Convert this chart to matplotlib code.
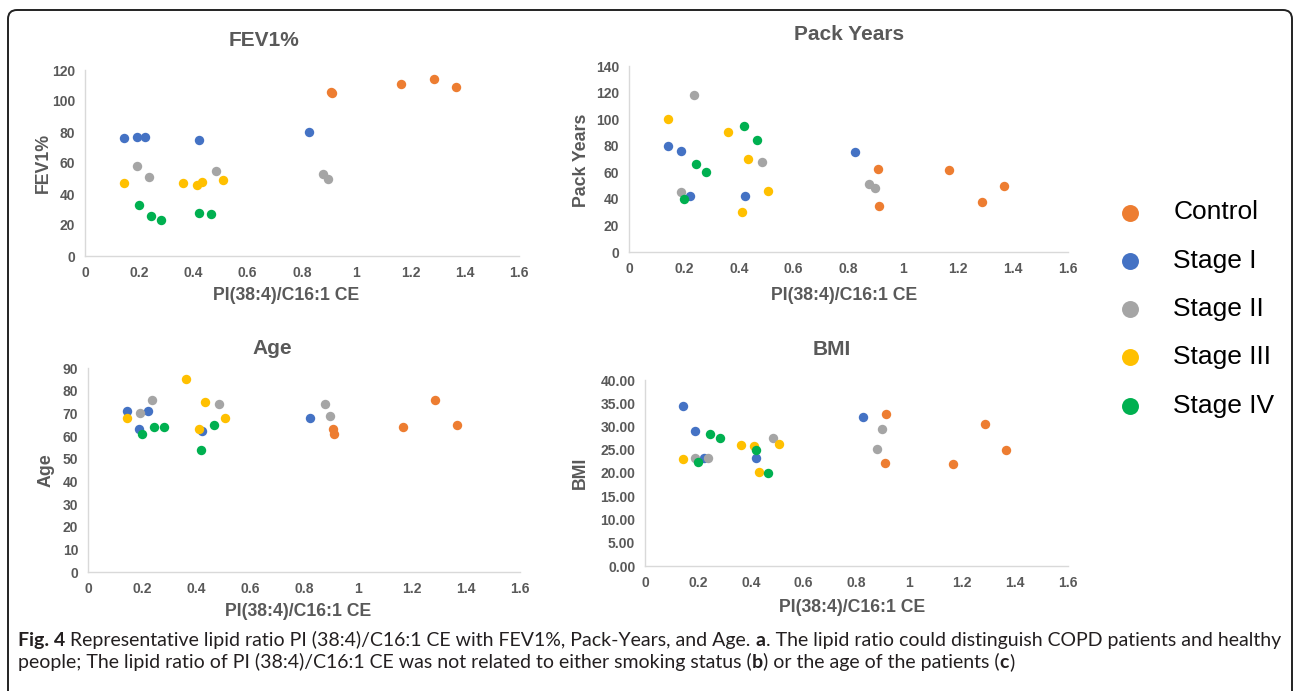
import numpy as np
import matplotlib
matplotlib.use('Agg')
import matplotlib.pyplot as plt
from matplotlib.patches import FancyBboxPatch
from matplotlib.font_manager import FontProperties

W, H = 1295, 691

# groups and colours (Excel palette)
groups = ['Control', 'Stage I', 'Stage II', 'Stage III', 'Stage IV']
colors = ['#ED7D31', '#4472C4', '#A5A5A5', '#FFC000', '#00B050']

# PI(38:4)/C16:1 CE ratio per subject, one list per group
ratio = [
    [0.908, 0.910, 1.165, 1.285, 1.367],
    [0.143, 0.190, 0.223, 0.421, 0.824],
    [0.191, 0.237, 0.484, 0.876, 0.896],
    [0.143, 0.362, 0.412, 0.432, 0.507],
    [0.200, 0.245, 0.282, 0.419, 0.465],
]

fev1 = [
    [106, 105, 111, 114, 109],
    [76, 77, 77, 75, 80],
    [58, 51, 55, 53, 50],
    [47, 47, 46, 48, 49],
    [33, 26, 23, 28, 27],
]

pack_years = [
    [62.5, 35, 62, 38, 50],
    [80, 76, 42, 42, 75],
    [45, 118, 67.5, 51, 48],
    [100, 90, 30, 70, 46],
    [40, 66, 60, 95, 84],
]

age = [
    [63, 61, 64, 76, 65],
    [71, 63, 71, 62, 68],
    [70, 76, 74, 74, 69],
    [68, 85, 63, 75, 68],
    [61, 64, 64, 54, 65],
]

bmi = [
    [22.2, 32.6, 22.0, 30.6, 25.0],
    [34.5, 29.0, 23.3, 23.3, 32.0],
    [23.3, 23.3, 27.6, 25.2, 29.5],
    [23.1, 26.0, 25.9, 20.2, 26.2],
    [22.3, 28.3, 27.6, 25.0, 20.1],
]

x_ticks = [0, 0.2, 0.4, 0.6, 0.8, 1, 1.2, 1.4, 1.6]
x_ticklabels = ['0', '0.2', '0.4', '0.6', '0.8', '1', '1.2', '1.4', '1.6']

GREY_TXT = '#595959'
plt.rcParams['font.family'] = ['Liberation Sans', 'DejaVu Sans']


def fx(x):
    return x / W


def fy(y):
    return 1 - y / H


def add_panel(fig, box, yvals, ymax, ystep, yfmt):
    left, right, top, bottom = box
    ax = fig.add_axes([fx(left), fy(bottom), (right - left) / W, (bottom - top) / H])
    for g, c, xs, ys in zip(groups, colors, ratio, yvals):
        ax.scatter(xs, ys, s=46, color=c, linewidths=0, label=g, zorder=3)
    ax.set_xlim(0, 1.6)
    ax.set_ylim(0, ymax)
    ax.set_xticks(x_ticks)
    ax.set_xticklabels(x_ticklabels)
    yt = np.arange(0, ymax + ystep / 2, ystep)
    ax.set_yticks(yt)
    ax.set_yticklabels([yfmt.format(v) for v in yt])
    for s in ['top', 'right']:
        ax.spines[s].set_visible(False)
    for s in ['left', 'bottom']:
        ax.spines[s].set_color('#D9D9D9')
        ax.spines[s].set_linewidth(1.0)
    ax.tick_params(length=0, labelsize=10, labelcolor=GREY_TXT, pad=7)
    for lab in ax.get_xticklabels() + ax.get_yticklabels():
        lab.set_fontweight('bold')
    ax.patch.set_alpha(0)
    return ax


fig = plt.figure(figsize=(W / 100, H / 100), dpi=100)

panels = [
    # box (l, r, t, b), values, ymax, step, fmt, title, title pos, ylabel, ylabel pos, xlabel pos
    ((85, 519, 70, 256), fev1, 120, 20, '{:.0f}', 'FEV1%', (264, 40), 'FEV1%', (43, 163), (286, 296)),
    ((629, 1068, 66, 252), pack_years, 140, 20, '{:.0f}', 'Pack Years', (849, 35), 'Pack Years', (581, 160), (844, 295)),
    ((88, 520, 368, 572), age, 90, 10, '{:.0f}', 'Age', (272, 348), 'Age', (46, 470), (298, 611)),
    ((645, 1068, 380, 566), bmi, 40, 5, '{:.2f}', 'BMI', (832, 349), 'BMI', (580, 473), (852, 608)),
]

axes = []
for box, vals, ymax, step, fmt, title, tpos, ylab, ypos, xpos in panels:
    ax = add_panel(fig, box, vals, ymax, step, fmt)
    axes.append(ax)
    fig.text(fx(tpos[0]), fy(tpos[1]), title, ha='center', va='center',
             fontsize=15, fontweight='bold', color=GREY_TXT)
    fig.text(fx(ypos[0]), fy(ypos[1]), ylab, ha='center', va='center', rotation=90,
             fontsize=12.8, fontweight='bold', color=GREY_TXT)
    fig.text(fx(xpos[0]), fy(xpos[1]), 'PI(38:4)/C16:1 CE', ha='center', va='center',
             fontsize=12.7, fontweight='bold', color=GREY_TXT)

# legend on the right
handles, labels = axes[0].get_legend_handles_labels()
fig.legend(handles, labels, loc='center left', bbox_to_anchor=(fx(1117), fy(309)),
           frameon=False, fontsize=19, markerscale=1.8, handlelength=1.0,
           handletextpad=1.13, labelspacing=0.92, borderaxespad=0, borderpad=0)

# frame around figure + caption
frame = FancyBboxPatch((0.08, -0.5), 12.84, 7.31,
                       boxstyle='round,pad=0,rounding_size=0.09',
                       transform=fig.dpi_scale_trans, fill=False,
                       lw=1.4, ec='#222222')
fig.patches.append(frame)

# caption with bold parts
cap_family = ['Lato', 'DejaVu Sans']
line1 = [('Fig. 4', True),
         (' Representative lipid ratio PI (38:4)/C16:1 CE with FEV1%, Pack-Years, and Age. ', False),
         ('a', True),
         ('. The lipid ratio could distinguish COPD patients and healthy', False)]
line2 = [('people; The lipid ratio of PI (38:4)/C16:1 CE was not related to either smoking status (', False),
         ('b', True),
         (') or the age of the patients (', False),
         ('c', True),
         (')', False)]

renderer = fig.canvas.get_renderer()


def seg_width(text, bold, size):
    fp = FontProperties(family=cap_family, size=size, weight='bold' if bold else 'normal')
    w1 = renderer.get_text_width_height_descent('x' + text + 'x', fp, ismath=False)[0]
    w0 = renderer.get_text_width_height_descent('xx', fp, ismath=False)[0]
    return w1 - w0


base = 12.0
w_line1 = sum(seg_width(t, b, base) for t, b in line1)
cap_size = base * (1272 - 18) / w_line1


def draw_line(segs, x, y):
    cur = x
    for t, b in segs:
        fig.text(fx(cur), fy(y), t, fontsize=cap_size, family=cap_family,
                 fontweight='bold' if b else 'normal', color='#231F20',
                 ha='left', va='baseline')
        cur += seg_width(t, b, cap_size)


draw_line(line1, 18, 646)
draw_line(line2, 18, 668)

fig.savefig('out.png', dpi=100)
